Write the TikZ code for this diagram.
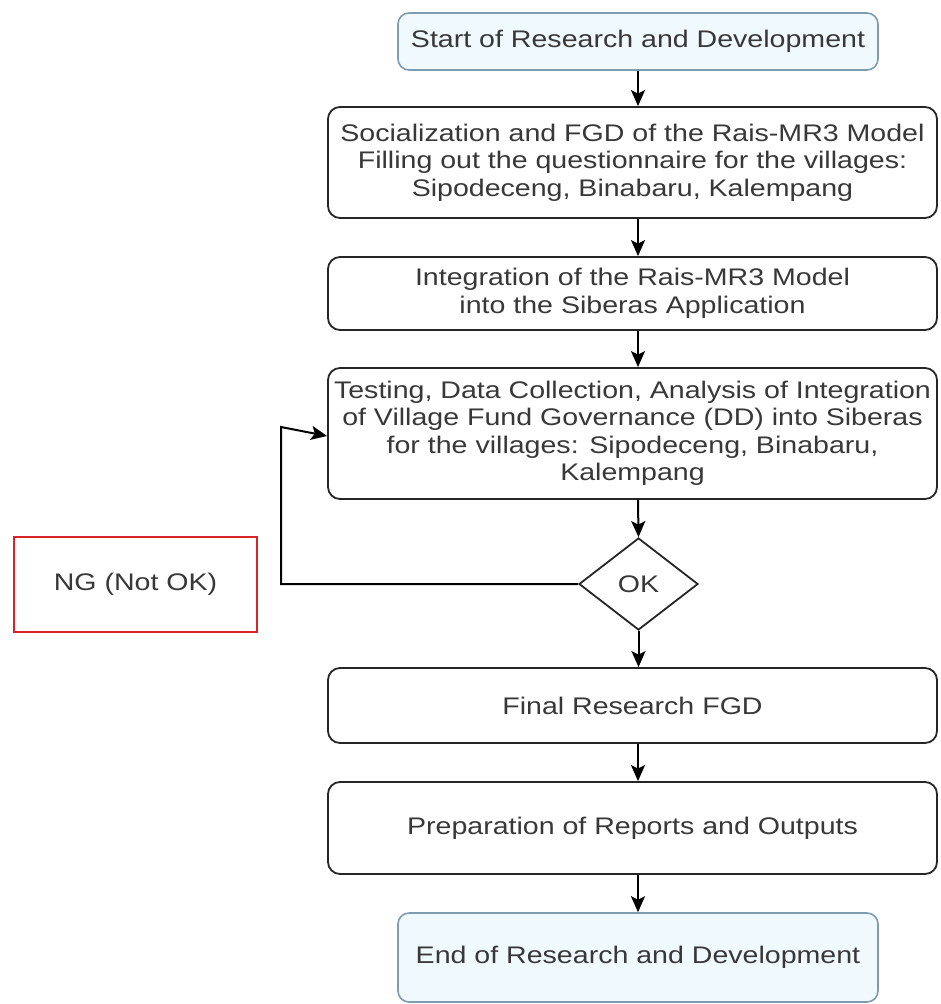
\documentclass[tikz,border=0pt]{standalone}
\usepackage{fontspec}
\setmainfont{Liberation Sans}[FakeStretch=1.19]
\usetikzlibrary{shapes.geometric,arrows.meta,calc}
\definecolor{txt}{HTML}{383838}
\definecolor{edge}{HTML}{262626}
\definecolor{termline}{HTML}{7E9BB0}
\definecolor{termfill}{HTML}{F0F9FD}
\definecolor{ngred}{HTML}{D8232A}
\begin{document}
\begin{tikzpicture}[x=1pt,y=-1pt,
  every node/.style={text=txt,font=\fontsize{24}{27.5}\selectfont,align=center,inner sep=0pt},
  process/.style={draw=edge,line width=1.8pt,rounded corners=12pt,minimum width=609pt},
  terminal/.style={draw=termline,fill=termfill,line width=1.6pt,rounded corners=11pt,minimum width=480pt},
  decision/.style={draw=edge,line width=1.8pt,diamond,aspect=1.3,minimum width=119pt,minimum height=92pt},
  ngbox/.style={draw=ngred,line width=2.6pt,minimum width=243pt,minimum height=95pt},
  flow/.style={draw=black,line width=2pt,-{Stealth[length=16pt,width=14pt,inset=3.5pt]}}]
\useasboundingbox (0,0) rectangle (940,1004);
\fill[white] (0,0) rectangle (940,1004);

% main column
\node[terminal,minimum height=57pt] (start) at (638,41.5) {Start of Research and Development};
\node[process,minimum height=111pt] (soc) at (632.5,162.5)
  {Socialization and FGD of the Rais-MR3 Model\\Filling out the questionnaire for the villages:\\Sipodeceng, Binabaru, Kalempang};
\node[process,minimum height=73pt] (integ) at (632.5,293.5)
  {Integration of the Rais-MR3 Model\\into the Siberas Application};
\node[process,minimum height=131pt] (test) at (632.5,433.5)
  {Testing, Data Collection, Analysis of Integration\\of Village Fund Governance (DD) into Siberas\\for the villages: Sipodeceng, Binabaru,\\Kalempang};
\node[decision] (ok) at (638.5,584) {OK};
\node[ngbox] (ng) at (135.5,584.5) {NG (Not OK)};
\node[process,minimum height=75pt] (final) at (632.5,705.5) {Final Research FGD};
\node[process,minimum height=92pt] (report) at (632.5,828) {Preparation of Reports and Outputs};
\node[terminal,minimum height=89pt] (finish) at (638,957.5) {End of Research and Development};

% vertical connectors
\draw[flow] (start.south) -- (start.south |- soc.north);
\draw[flow] (start.south |- soc.south) -- (start.south |- integ.north);
\draw[flow] (start.south |- integ.south) -- (start.south |- test.north);
\draw[flow] (start.south |- test.south) -- (ok.north);
\draw[flow] (ok.south) -- (ok.south |- final.north);
\draw[flow] (start.south |- final.south) -- (start.south |- report.north);
\draw[flow] (start.south |- report.south) -- (finish.north);

% rework loop back to testing
\coordinate (loopbottom) at (281,584);
\coordinate (looptop) at (281,427);
\draw[flow,rounded corners=0pt] (ok.west) -- (loopbottom) -- (looptop) -- ($(test.west)+(0,2.5)$);
\end{tikzpicture}
\end{document}
